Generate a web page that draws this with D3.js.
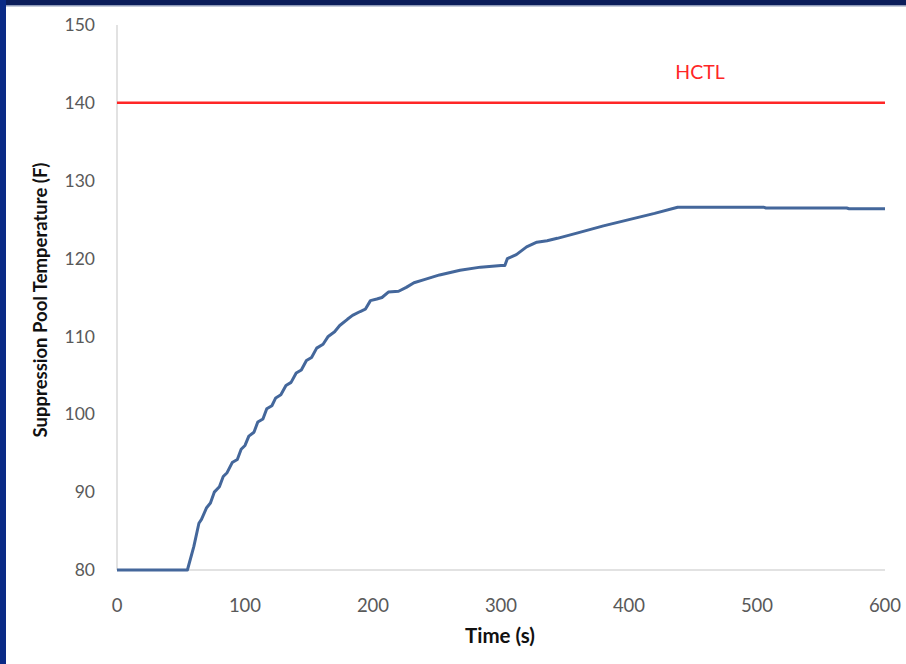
<!DOCTYPE html>
<html>
<head>
<meta charset="utf-8">
<script src="https://cdn.jsdelivr.net/npm/d3@7"></script>
<style>
html,body{margin:0;padding:0;background:#fff;}
svg{display:block;}
</style>
</head>
<body>
<svg id="chart" width="906" height="664"></svg>
<script>
// Data
const timeS = [0,55,60,64,66,70,73,76,80,83,86,90,94,97,100,103,107,110,114,117,121,124,128,132,136,140,144,148,152,156,161,165,170,174,180,184,190,194,198,203,207,212,220,226,232,240,252,268,284,300,303,305,312,320,328,336,344,360,380,400,420,438,505,507,570,572,600];
const tempF = [80,80,83,86,86.5,88,88.6,90,90.7,92,92.5,93.8,94.2,95.5,96,97.2,97.7,99,99.4,100.7,101.1,102.1,102.5,103.7,104.1,105.3,105.7,106.9,107.3,108.5,109,110,110.6,111.4,112.2,112.7,113.2,113.5,114.6,114.8,115,115.7,115.8,116.3,116.9,117.3,117.9,118.5,118.9,119.1,119.1,120,120.5,121.5,122.1,122.3,122.6,123.3,124.2,125,125.8,126.6,126.6,126.5,126.5,126.4,126.4];
const hctlValue = 140;
const hctlLabel = "HCTL";
const xTicks = [0,100,200,300,400,500,600];
const yTicks = [80,90,100,110,120,130,140,150];
const xTitle = "Time (s)";
const yTitle = "Suppression Pool Temperature (F)";

const svg = d3.select("#chart");
const font = "Lato, 'Open Sans', sans-serif";

// frame
svg.append("rect").attr("x",0).attr("y",0).attr("width",906).attr("height",664).attr("fill","#fff");
svg.append("rect").attr("x",0).attr("y",0).attr("width",906).attr("height",5).attr("fill","#0b1d5a");
svg.append("rect").attr("x",0).attr("y",5).attr("width",906).attr("height",1.5).attr("fill","#8e9ab8");
svg.append("rect").attr("x",0).attr("y",0).attr("width",6).attr("height",664).attr("fill","#0a2a86");

const x = d3.scaleLinear().domain([0,600]).range([117,885]);
const y = d3.scaleLinear().domain([80,150]).range([570,25]);

// axes lines
svg.append("line").attr("x1",x(0)).attr("x2",x(0)).attr("y1",y(150)).attr("y2",y(80))
  .attr("stroke","#d9d9d9").attr("stroke-width",1.5);
svg.append("line").attr("x1",x(0)).attr("x2",x(600)).attr("y1",y(80)).attr("y2",y(80))
  .attr("stroke","#d9d9d9").attr("stroke-width",1.5);

// tick labels
svg.append("g").selectAll("text").data(yTicks).join("text")
  .attr("x",95).attr("y",d=>y(d)).attr("dy","0.35em").attr("text-anchor","end")
  .attr("font-family",font).attr("font-size",17.5).attr("fill","#595959").text(d=>d);
svg.append("g").selectAll("text").data(xTicks).join("text")
  .attr("x",d=>x(d)).attr("y",606).attr("dy","0.35em").attr("text-anchor","middle")
  .attr("font-family",font).attr("font-size",18.5).attr("fill","#595959").text(d=>d);

// titles
svg.append("text").attr("x",500).attr("y",636).attr("dy","0.35em").attr("text-anchor","middle")
  .attr("font-family",font).attr("font-weight","bold").attr("font-size",20.5).attr("fill","#111").text(xTitle);
svg.append("text").attr("transform","translate(41,300) rotate(-90)").attr("dy","0.35em").attr("text-anchor","middle")
  .attr("font-family",font).attr("font-weight","bold").attr("font-size",18.5).attr("fill","#111").text(yTitle);

// HCTL line
svg.append("line").attr("x1",x(0)).attr("x2",x(600)).attr("y1",y(hctlValue)).attr("y2",y(hctlValue))
  .attr("stroke","#ff2626").attr("stroke-width",2.5);
svg.append("text").attr("x",700).attr("y",72).attr("dy","0.35em").attr("text-anchor","middle")
  .attr("font-family",font).attr("font-size",19.5).attr("fill","#ff2626").text(hctlLabel);

// temperature curve
const pts = timeS.map((t,i)=>[t,tempF[i]]);
svg.append("path").datum(pts)
  .attr("d", d3.line().x(d=>x(d[0])).y(d=>y(d[1])))
  .attr("fill","none").attr("stroke","#44679b").attr("stroke-width",3)
  .attr("stroke-linejoin","round");
</script>
</body>
</html>
